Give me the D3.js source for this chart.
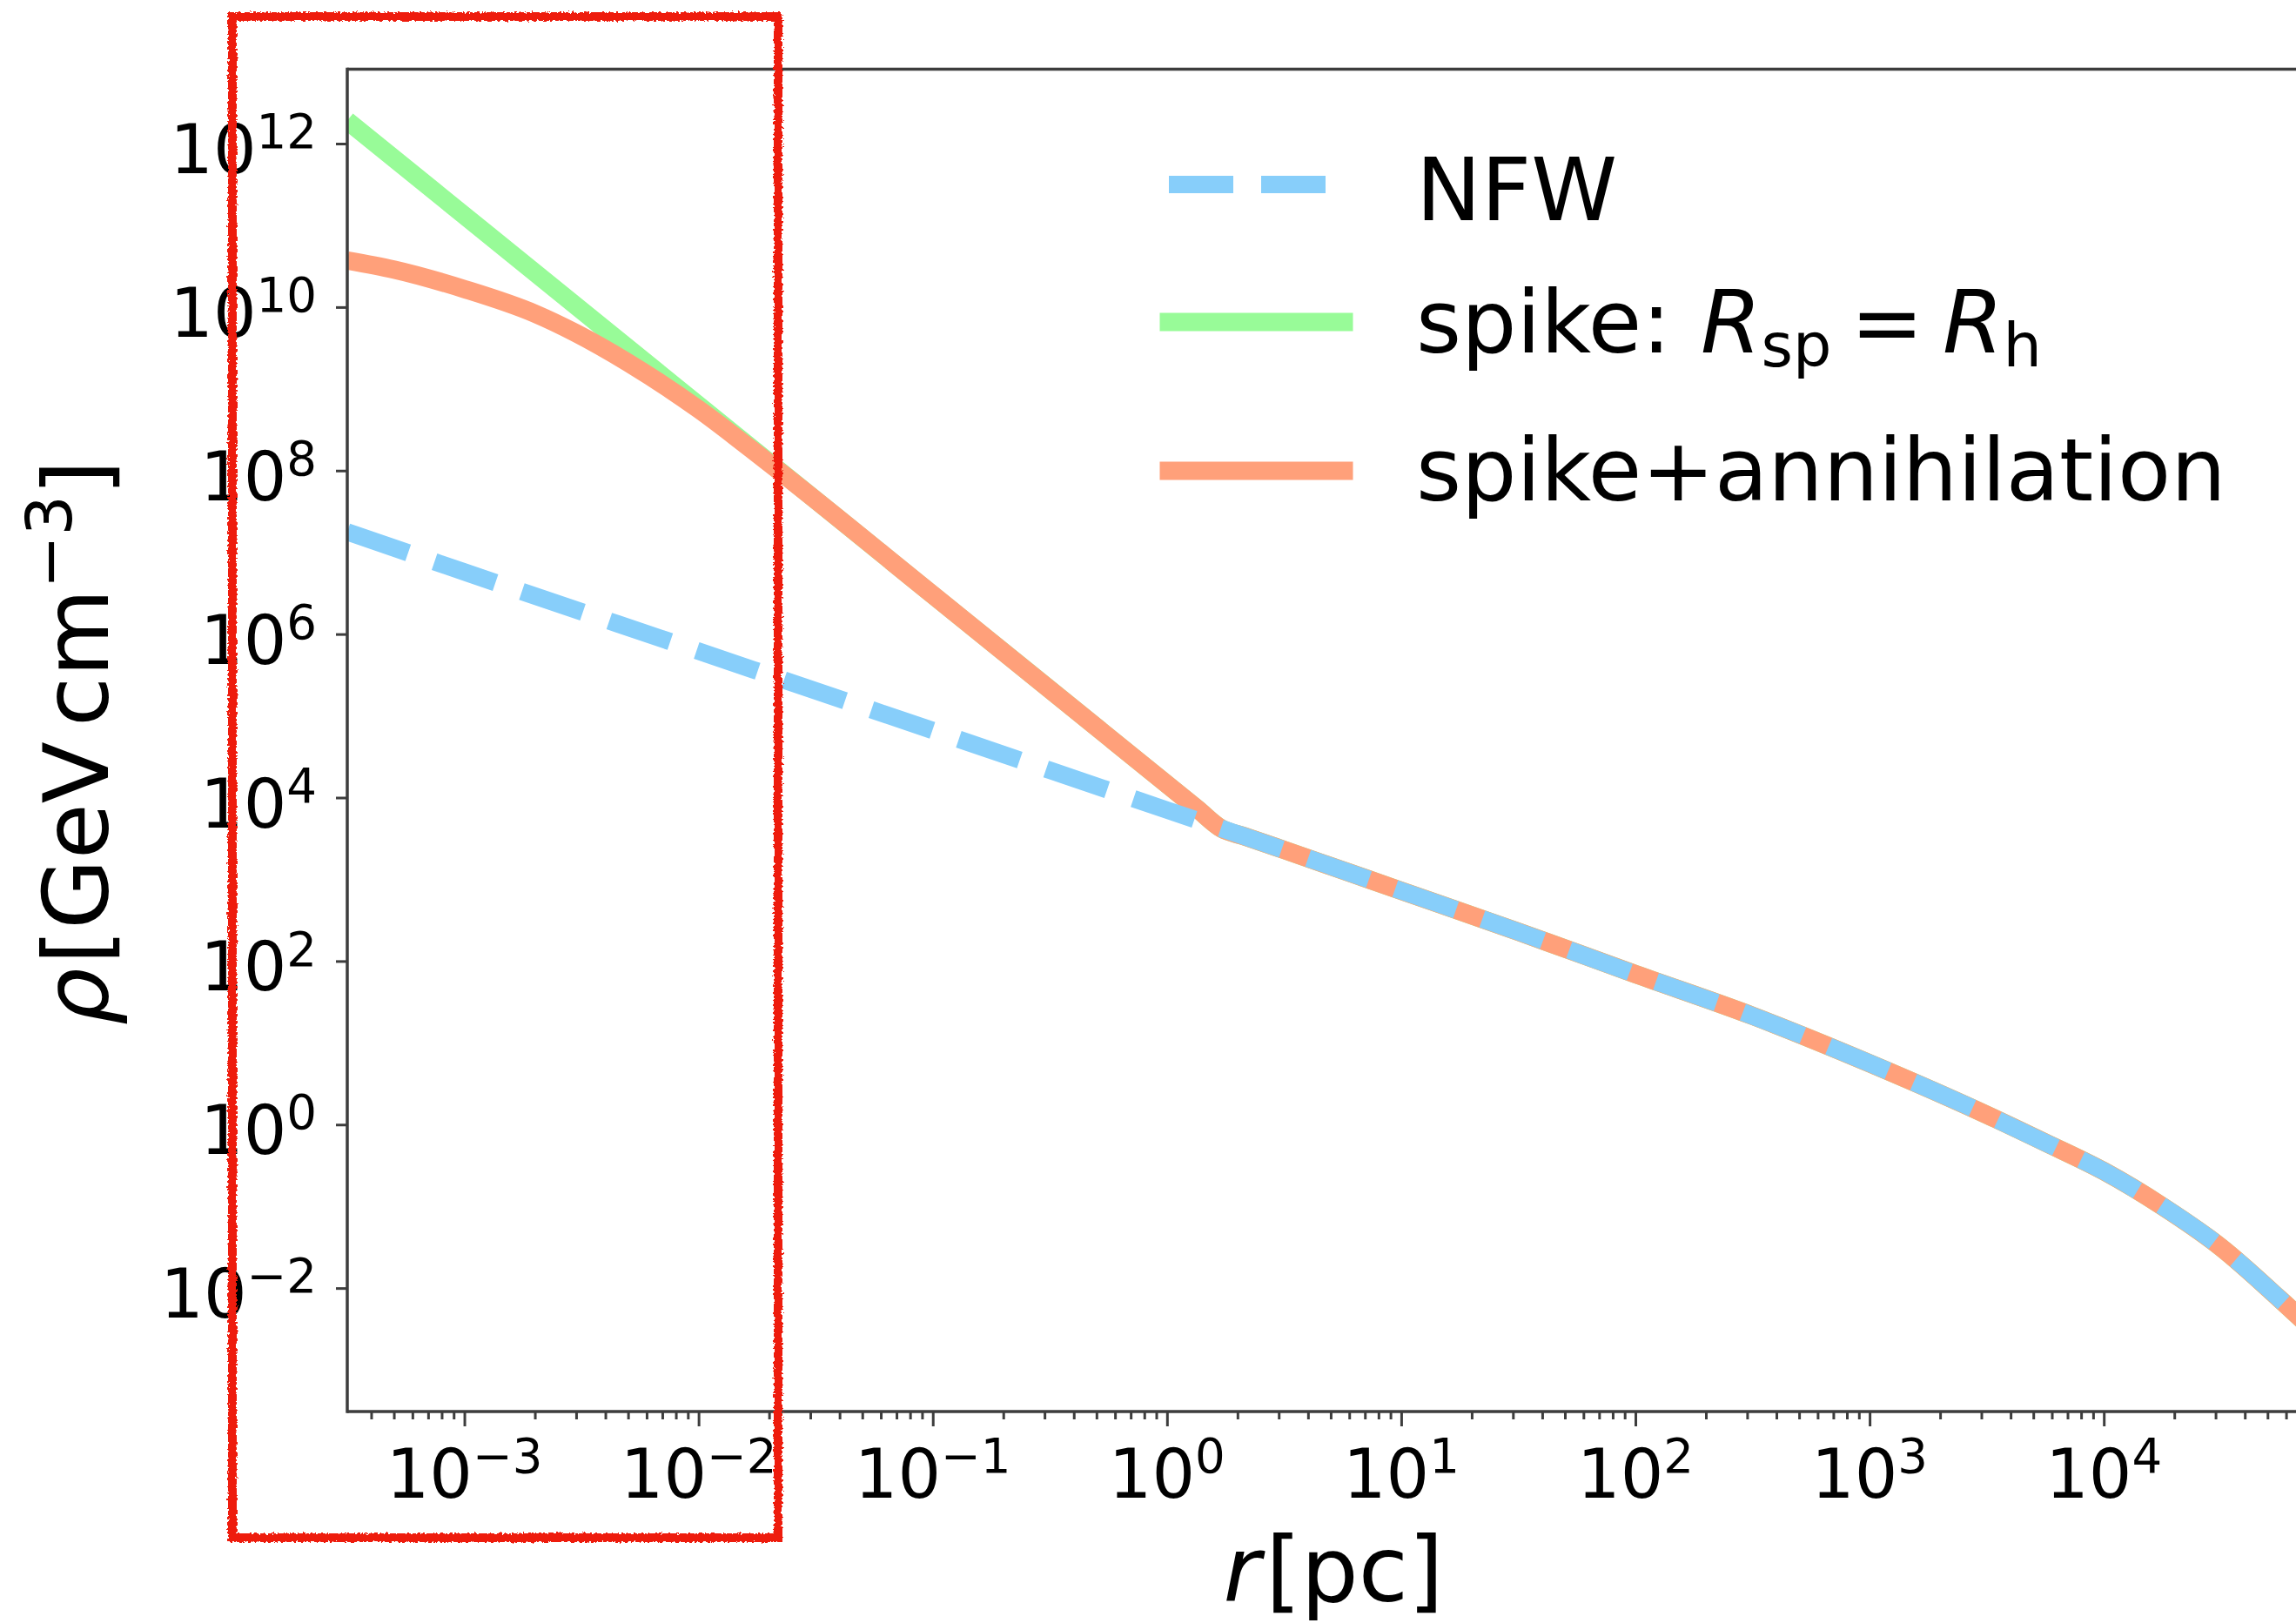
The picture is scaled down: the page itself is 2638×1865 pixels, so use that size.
<!DOCTYPE html>
<html>
<head>
<meta charset="utf-8">
<script src="https://cdn.jsdelivr.net/npm/d3@7"></script>
<style>
  body { margin: 0; background: #fff; }
  svg { display: block; }
  text { font-family: "DejaVu Sans", sans-serif; fill: #000; }
</style>
</head>
<body>
<div id="chart"></div>
<script>
// radius [pc] and density [GeV cm^-3]
var nfwRadius  = [3.16e-4, 1e-3, 1e-2, 0.1, 1, 2.14, 3.16, 10, 31.6, 100, 316, 1e3, 3.16e3, 5.62e3, 1e4, 1.78e4, 3.16e4, 5.62e4, 1e5];
var nfwDensity = [1.78e7, 5.75e6, 6.17e5, 6.61e4, 7.03e3, 3.36e3, 2.29e3, 724, 229, 69.2, 21.4, 5.62, 1.32, 0.603, 0.269, 0.100, 0.0316, 7.41e-3, 1.58e-3];

// spike (R_sp = R_h), inner part before it meets NFW
var spikeRadius  = [3.16e-4, 1e-3, 1e-2, 0.1, 1.35, 1.71];
var spikeDensity = [1.91e12, 1.32e11, 6.31e8, 3.02e6, 7.24e3, 4.17e3];

// spike + annihilation plateau, inner part
var annRadius  = [3.16e-4, 5e-4, 1e-3, 2e-3, 3e-3, 5e-3, 1e-2, 2e-2, 0.1, 1.35, 1.71];
var annDensity = [3.72e10, 2.88e10, 1.66e10, 8.32e9, 4.79e9, 2.09e9, 5.62e8, 1.23e8, 3.02e6, 7.24e3, 4.17e3];

var xMajor = [1e-3, 1e-2, 1e-1, 1, 10, 100, 1e3, 1e4];
var xMajorExp = [-3, -2, -1, 0, 1, 2, 3, 4];
var yMajor = [1e-2, 1, 1e2, 1e4, 1e6, 1e8, 1e10, 1e12];
var yMajorExp = [-2, 0, 2, 4, 6, 8, 10, 12];

var legendLabels = ["NFW", "spike", "spike+annihilation"];
var colors = { nfw: "#87cefa", spike: "#98fb98", ann: "#ffa07a" };

var W = 2638, H = 1865;
var margin = { left: 399, top: 79.5, right: 2654, bottom: 1622 };

var svg = d3.select("#chart").append("svg")
  .attr("width", W)
  .attr("height", H)
  .style("overflow", "hidden");

var defs = svg.append("defs");
defs.append("clipPath").attr("id", "plotclip")
  .append("rect")
  .attr("x", margin.left).attr("y", margin.top)
  .attr("width", margin.right - margin.left)
  .attr("height", margin.bottom - margin.top);

// crayon look for the red box
var rough = defs.append("filter").attr("id", "rough")
  .attr("filterUnits", "userSpaceOnUse")
  .attr("x", 0).attr("y", 0).attr("width", W).attr("height", H);
rough.append("feTurbulence")
  .attr("type", "fractalNoise")
  .attr("baseFrequency", 0.35)
  .attr("numOctaves", 2)
  .attr("seed", 4)
  .attr("result", "noise");
rough.append("feDisplacementMap")
  .attr("in", "SourceGraphic")
  .attr("in2", "noise")
  .attr("scale", 6)
  .attr("xChannelSelector", "R")
  .attr("yChannelSelector", "G");

// scales
var x = d3.scaleLog()
  .domain([Math.pow(10, -3.5), Math.pow(10, 4.88)])
  .range([margin.left, margin.right]);
var y = d3.scaleLog()
  .domain([Math.pow(10, -3.51), Math.pow(10, 12.91)])
  .range([margin.bottom, margin.top]);

// build series
var nfw = nfwRadius.map(function(r, i) { return { r: r, rho: nfwDensity[i] }; });
var tail = nfw.filter(function(d) { return d.r > 1.71; });
var spike = spikeRadius.map(function(r, i) { return { r: r, rho: spikeDensity[i] }; }).concat(tail);
var ann = annRadius.map(function(r, i) { return { r: r, rho: annDensity[i] }; }).concat(tail);

var line = d3.line()
  .x(function(d) { return x(d.r); })
  .y(function(d) { return y(d.rho); })
  .curve(d3.curveMonotoneX);

var plot = svg.append("g").attr("clip-path", "url(#plotclip)");

plot.append("path")
  .datum(spike)
  .attr("d", line)
  .attr("fill", "none")
  .attr("stroke", colors.spike)
  .attr("stroke-width", 21)
  .attr("stroke-linejoin", "round");

plot.append("path")
  .datum(ann)
  .attr("d", line)
  .attr("fill", "none")
  .attr("stroke", colors.ann)
  .attr("stroke-width", 21)
  .attr("stroke-linejoin", "round");

plot.append("path")
  .datum(nfw)
  .attr("d", line)
  .attr("fill", "none")
  .attr("stroke", colors.nfw)
  .attr("stroke-width", 20)
  .attr("stroke-dasharray", "74 32")
  .attr("stroke-linejoin", "round");

// ticks
var axisColor = "#3d3d3d";

var xMinor = [];
for (var k = -4; k <= 4; k++) {
  for (var m = 2; m <= 9; m++) {
    var v = m * Math.pow(10, k);
    if (v > x.domain()[0] && v < x.domain()[1]) xMinor.push(v);
  }
}

var xAxisMajor = svg.append("g")
  .attr("transform", "translate(0," + margin.bottom + ")")
  .call(d3.axisBottom(x).tickValues(xMajor).tickSize(17).tickSizeOuter(0).tickFormat(function() { return ""; }));
var xAxisMinor = svg.append("g")
  .attr("transform", "translate(0," + margin.bottom + ")")
  .call(d3.axisBottom(x).tickValues(xMinor).tickSize(9).tickSizeOuter(0).tickFormat(function() { return ""; }));
var yAxis = svg.append("g")
  .attr("transform", "translate(" + margin.left + ",0)")
  .call(d3.axisLeft(y).tickValues(yMajor).tickSize(13).tickSizeOuter(0).tickFormat(function() { return ""; }));

[xAxisMajor, xAxisMinor, yAxis].forEach(function(g) {
  g.select(".domain").remove();
  g.selectAll(".tick line").attr("stroke", axisColor).attr("stroke-width", 3);
});

// spines (right one falls outside the cropped picture)
svg.append("line")
  .attr("x1", margin.left).attr("x2", margin.right)
  .attr("y1", margin.top).attr("y2", margin.top)
  .attr("stroke", axisColor).attr("stroke-width", 3.5);
svg.append("line")
  .attr("x1", margin.left).attr("x2", margin.right)
  .attr("y1", margin.bottom).attr("y2", margin.bottom)
  .attr("stroke", axisColor).attr("stroke-width", 3.5);
svg.append("line")
  .attr("x1", margin.left).attr("x2", margin.left)
  .attr("y1", margin.top - 1.75).attr("y2", margin.bottom + 1.75)
  .attr("stroke", axisColor).attr("stroke-width", 3.5);

// tick labels as 10^n
var tickFont = 78;
function powerLabel(t, e) {
  t.append("tspan").text("10");
  t.append("tspan")
    .attr("dy", -0.37 * tickFont)
    .attr("font-size", 0.7 * tickFont)
    .text(e < 0 ? "\u2212" + (-e) : String(e));
}

xMajor.forEach(function(v, i) {
  var t = svg.append("text")
    .attr("x", x(v))
    .attr("y", 1721)
    .attr("text-anchor", "middle")
    .attr("font-size", tickFont);
  powerLabel(t, xMajorExp[i]);
});

yMajor.forEach(function(v, i) {
  var t = svg.append("text")
    .attr("x", 364)
    .attr("y", y(v) + 34)
    .attr("text-anchor", "end")
    .attr("font-size", tickFont);
  powerLabel(t, yMajorExp[i]);
});

// axis labels
var labelFont = 104;
var xl = svg.append("text")
  .attr("x", 1532)
  .attr("y", 1840)
  .attr("text-anchor", "middle")
  .attr("font-size", labelFont);
xl.append("tspan").attr("font-style", "italic").text("r");
xl.append("tspan").attr("dx", 6).text("[pc]");

var yl = svg.append("text")
  .attr("transform", "translate(124,853.5) rotate(-90)")
  .attr("text-anchor", "middle")
  .attr("font-size", labelFont);
yl.append("tspan").attr("font-style", "italic").text("\u03c1");
yl.append("tspan").attr("dx", 4).text("[GeV");
yl.append("tspan").attr("dx", 17).text("cm");
yl.append("tspan").attr("dy", -0.4 * labelFont).attr("font-size", 0.7 * labelFont).text("\u22123");
yl.append("tspan").attr("dy", 0.4 * labelFont).text("]");

// legend
var legendFont = 100;
var lx0 = 1343, lx1 = 1544, tx = 1627;
var rows = [
  { y: 212, base: 253, color: colors.nfw, dash: "74 32", cap: "butt" },
  { y: 370, base: 405, color: colors.spike, dash: null, cap: "square" },
  { y: 541, base: 575, color: colors.ann, dash: null, cap: "square" }
];

var legend = svg.append("g").attr("class", "legend");
rows.forEach(function(r, i) {
  legend.append("line")
    .attr("x1", lx0).attr("x2", lx1)
    .attr("y1", r.y).attr("y2", r.y)
    .attr("stroke", r.color)
    .attr("stroke-width", i === 0 ? 20 : 21)
    .attr("stroke-linecap", r.cap)
    .attr("stroke-dasharray", r.dash);
});

legend.append("text")
  .attr("x", tx).attr("y", rows[0].base)
  .attr("font-size", legendFont)
  .text(legendLabels[0]);

var sp = legend.append("text")
  .attr("x", tx).attr("y", rows[1].base)
  .attr("font-size", legendFont);
sp.append("tspan").text(legendLabels[1] + ":");
sp.append("tspan").attr("dx", 34).attr("font-style", "italic").text("R");
sp.append("tspan").attr("dy", 16).attr("font-size", 0.7 * legendFont).text("sp");
sp.append("tspan").attr("dy", -16).attr("dx", 22).text("=");
sp.append("tspan").attr("dx", 22).attr("font-style", "italic").text("R");
sp.append("tspan").attr("dy", 16).attr("font-size", 0.7 * legendFont).text("h");

legend.append("text")
  .attr("x", tx).attr("y", rows[2].base)
  .attr("font-size", legendFont)
  .text(legendLabels[2]);

// hand drawn red box over the inner region
svg.append("rect")
  .attr("x", 267)
  .attr("y", 19)
  .attr("width", 894 - 267)
  .attr("height", 1767 - 19)
  .attr("fill", "none")
  .attr("stroke", "#ee1f0c")
  .attr("stroke-width", 10)
  .attr("filter", "url(#rough)");
</script>
</body>
</html>
